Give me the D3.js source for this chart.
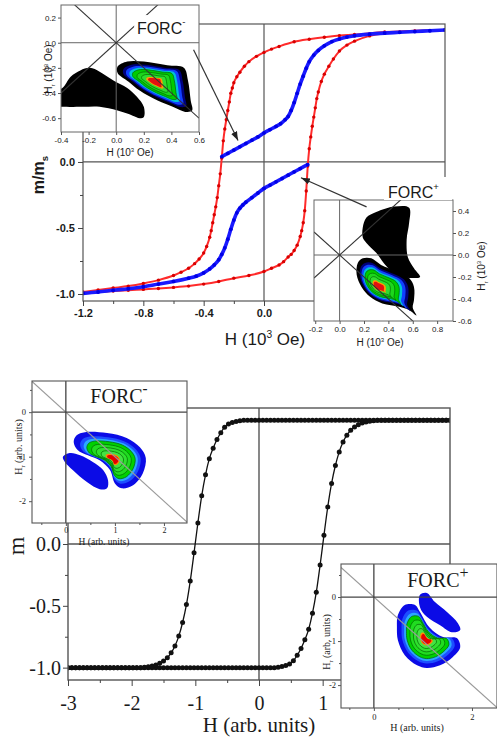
<!DOCTYPE html>
<html><head><meta charset="utf-8">
<script src="https://cdn.jsdelivr.net/npm/d3@7/dist/d3.min.js"></script>
<style>html,body{margin:0;padding:0;background:#fff}svg{display:block}</style>
</head><body>
<svg id="chart" width="497" height="740" xmlns="http://www.w3.org/2000/svg"></svg>
<script>
// ================= DATA =================
// --- Top panel: measured hysteresis (H in 10^3 Oe, m/ms) ---
const topRedUpH = [1.2,1.0,0.8,0.6,0.5,0.4,0.3,0.2,0.1,0.05,0,-0.05,-0.1,-0.13,-0.16,-0.18,-0.2,-0.21,-0.22,-0.23,-0.24,-0.25,-0.26,-0.27,-0.28,-0.29,-0.30,-0.31,-0.32,-0.33,-0.34,-0.35,-0.36,-0.38,-0.40,-0.43,-0.46,-0.50,-0.55,-0.6,-0.7,-0.8,-0.9,-1.0,-1.1,-1.2];
const topRedUpM = [1.0,0.993,0.985,0.965,0.957,0.945,0.93,0.91,0.875,0.855,0.83,0.80,0.76,0.725,0.68,0.645,0.60,0.56,0.52,0.455,0.39,0.32,0.25,0.16,0.03,-0.09,-0.18,-0.27,-0.34,-0.40,-0.46,-0.52,-0.57,-0.64,-0.69,-0.735,-0.77,-0.805,-0.835,-0.86,-0.895,-0.92,-0.94,-0.955,-0.97,-0.985];
const topRedLowH = [-1.2,-1.1,-1.0,-0.9,-0.8,-0.7,-0.6,-0.5,-0.4,-0.3,-0.2,-0.1,0.0,0.05,0.1,0.13,0.16,0.18,0.2,0.22,0.24,0.25,0.26,0.27,0.28,0.29,0.30,0.31,0.32,0.33,0.34,0.35,0.36,0.38,0.40,0.43,0.46,0.50,0.55,0.6,0.7,0.8,0.9,1.0,1.1,1.2];
const topRedLowM = [-0.99,-0.985,-0.978,-0.972,-0.965,-0.958,-0.95,-0.94,-0.925,-0.905,-0.88,-0.86,-0.83,-0.805,-0.78,-0.755,-0.72,-0.70,-0.67,-0.63,-0.565,-0.52,-0.46,-0.37,-0.22,-0.03,0.10,0.19,0.27,0.34,0.41,0.48,0.53,0.61,0.665,0.725,0.78,0.84,0.885,0.915,0.955,0.975,0.985,0.99,0.995,1.0];
const topBlueUpH = [-0.28,-0.24,-0.2,-0.16,-0.12,-0.08,-0.04,0,0.04,0.08,0.11,0.14,0.16,0.18,0.2,0.22,0.24,0.26,0.28,0.30,0.33,0.36,0.40,0.45,0.5,0.55,0.6,0.7,0.8,0.9,1.0,1.1,1.2];
const topBlueUpM = [0.04,0.065,0.09,0.115,0.14,0.165,0.19,0.22,0.245,0.27,0.29,0.32,0.345,0.39,0.45,0.52,0.59,0.65,0.71,0.76,0.81,0.845,0.88,0.912,0.932,0.946,0.956,0.968,0.976,0.982,0.988,0.994,1.0];
const topBlueLowH = [0.29,0.24,0.2,0.16,0.12,0.08,0.04,0,-0.04,-0.08,-0.12,-0.14,-0.16,-0.18,-0.2,-0.22,-0.24,-0.26,-0.28,-0.30,-0.33,-0.36,-0.40,-0.45,-0.5,-0.6,-0.7,-0.8,-0.9,-1.0,-1.1,-1.2];
const topBlueLowM = [-0.02,-0.05,-0.075,-0.1,-0.125,-0.15,-0.175,-0.2,-0.235,-0.27,-0.305,-0.325,-0.35,-0.385,-0.44,-0.51,-0.585,-0.65,-0.70,-0.74,-0.78,-0.81,-0.84,-0.865,-0.88,-0.905,-0.925,-0.945,-0.96,-0.972,-0.985,-0.995];
const topXTicks = [-1.2,-0.8,-0.4,0.0];
const topXMinor = [-1.0,-0.6,-0.2];
const topYTicks = [0.0,-0.5,-1.0];
const topYMinor = [-0.25,-0.75];

// --- Top insets (FORC distributions, H and Hr in 10^3 Oe) ---
const tmXTicks = [-0.4,-0.2,0.0,0.2,0.4,0.6];
const tmYTicks = [0.2,0.0,-0.2,-0.4,-0.6];
const tmNegBlob = [[-0.39,-0.36],[-0.33,-0.27],[-0.26,-0.22],[-0.19,-0.2],[-0.12,-0.23],[-0.02,-0.3],[0.08,-0.36],[0.15,-0.43],[0.2,-0.51],[0.2,-0.59],[0.17,-0.6],[0.12,-0.58],[0.01,-0.54],[-0.12,-0.51],[-0.24,-0.51],[-0.38,-0.51],[-0.45,-0.5],[-0.45,-0.38]];
const tmPosBlob = [[0.01,-0.19],[0.08,-0.15],[0.2,-0.15],[0.37,-0.18],[0.49,-0.2],[0.52,-0.3],[0.54,-0.46],[0.55,-0.54],[0.5,-0.55],[0.41,-0.51],[0.3,-0.46],[0.17,-0.38],[0.09,-0.31],[0.01,-0.24]];
const tmPeak = [0.28,-0.31];
const tpXTicks = [-0.2,0.0,0.2,0.4,0.6,0.8];
const tpYTicks = [0.4,0.2,0.0,-0.2,-0.4,-0.6];
const tpNegBlob = [[0.19,0.25],[0.22,0.34],[0.30,0.39],[0.45,0.44],[0.57,0.43],[0.57,0.29],[0.55,0.14],[0.56,-0.02],[0.61,-0.12],[0.66,-0.2],[0.6,-0.21],[0.49,-0.19],[0.39,-0.11],[0.30,0.02],[0.22,0.11],[0.19,0.16]];
const tpPosBlob = [[0.15,-0.07],[0.19,-0.03],[0.26,-0.03],[0.34,-0.09],[0.47,-0.15],[0.57,-0.21],[0.61,-0.29],[0.61,-0.41],[0.6,-0.48],[0.63,-0.55],[0.57,-0.5],[0.49,-0.47],[0.35,-0.44],[0.25,-0.38],[0.18,-0.29],[0.14,-0.18]];
const tpPeak = [0.31,-0.29];
const topLevels = [
  {s:1.00, fill:'#000000'},
  {s:0.84, fill:'#00007c'},
  {s:0.76, fill:'#1040ff'},
  {s:0.67, fill:'#00c4d4'},
  {s:0.59, fill:'#00cc00', stroke:'#006a00'},
  {s:0.47, fill:'#1cd61c', stroke:'#006a00'},
  {s:0.35, fill:'#30dc30', stroke:'#006a00'},
  {s:0.23, fill:'#ff9a00'},
  {s:0.18, fill:'#e41010'}
];

// --- Bottom panel: model hysteresis (arb. units) ---
const botH = [-3.00,-2.94,-2.88,-2.82,-2.76,-2.70,-2.64,-2.58,-2.52,-2.46,
  -2.40,-2.34,-2.28,-2.22,-2.16,-2.10,-2.04,-1.98,-1.92,-1.86,
  -1.80,-1.74,-1.68,-1.62,-1.56,-1.50,-1.44,-1.38,-1.32,-1.26,
  -1.20,-1.14,-1.08,-1.02,-0.96,-0.90,-0.84,-0.78,-0.72,-0.66,
  -0.60,-0.54,-0.48,-0.42,-0.36,-0.30,-0.24,-0.18,-0.12,-0.06,
  0.00,0.06,0.12,0.18,0.24,0.30,0.36,0.42,0.48,0.54,
  0.60,0.66,0.72,0.78,0.84,0.90,0.96,1.02,1.08,1.14,
  1.20,1.26,1.32,1.38,1.44,1.50,1.56,1.62,1.68,1.74,
  1.80,1.86,1.92,1.98,2.04,2.10,2.16,2.22,2.28,2.34,
  2.40,2.46,2.52,2.58,2.64,2.70,2.76,2.82,2.88,2.94,3.00];
const botAscM = [-1,-1,-1,-1,-1,-1,-1,-1,-1,-1,
  -1,-1,-1,-1,-1,-1,-1,-1,-1,-1,
  -1,-1,-1,-1,-1,-1,-1,-1,-1,-1,
  -1,-1,-1,-1,-1,-1,-1,-1,-1,-1,
  -1,-1,-1,-1,-1,-1,-1,-1,-1,-1,
  -1,-1,-1,-1,-1,-0.996,-0.99,-0.982,-0.97,-0.945,
  -0.90,-0.845,-0.775,-0.69,-0.56,-0.39,-0.17,0.07,0.30,0.49,
  0.635,0.745,0.825,0.88,0.92,0.946,0.965,0.978,0.987,0.993,
  0.997,1,1,1,1,1,1,1,1,1,
  1,1,1,1,1,1,1,1,1,1,1];
const botDescM = [-1,-1,-1,-1,-1,-1,-1,-1,-1,-1,
  -1,-1,-1,-1,-1,-1,-1,-1,-1,-1,
  -0.997,-0.993,-0.987,-0.978,-0.965,-0.946,-0.92,-0.88,-0.825,-0.745,
  -0.635,-0.49,-0.30,-0.07,0.17,0.39,0.56,0.69,0.775,0.845,
  0.90,0.945,0.97,0.982,0.99,0.996,1,1,1,1,
  1,1,1,1,1,1,1,1,1,1,
  1,1,1,1,1,1,1,1,1,1,
  1,1,1,1,1,1,1,1,1,1,
  1,1,1,1,1,1,1,1,1,1,
  1,1,1,1,1,1,1,1,1,1,1];
const botXTicks = [-3,-2,-1,0,1];
const botXMinor = [-2.5,-1.5,-0.5,0.5];
const botYTicks = [0.0,-0.5,-1.0];
const botYMinor = [-0.25,-0.75];

// --- Bottom insets (model FORC, arb. units) ---
const bInXTicks = [0,1,2];
const bInXMinor = [-0.5,0.5,1.5];
const bInYTicks = [0,-1,-2];
const bInYMinor = [0.5,-0.5,-1.5];
const bpXTickLabels = [0,2];
const bmSideBlob = [[-0.06,-1.01],[0.08,-0.92],[0.29,-0.97],[0.55,-1.12],[0.76,-1.3],[0.86,-1.53],[0.84,-1.71],[0.69,-1.73],[0.43,-1.57],[0.14,-1.3],[-0.02,-1.12]];
const bmMainBlob = [[0.22,-0.52],[0.39,-0.45],[0.84,-0.47],[1.24,-0.58],[1.51,-0.79],[1.63,-1.03],[1.57,-1.37],[1.37,-1.64],[1.14,-1.71],[1.0,-1.6],[0.9,-1.3],[0.69,-1.08],[0.45,-0.97],[0.24,-0.85],[0.16,-0.67]];
const bmPeak = [0.97,-1.06];
const bpSideBlob = [[0.94,0.05],[1.08,0.09],[1.24,-0.11],[1.49,-0.34],[1.71,-0.59],[1.76,-0.75],[1.59,-0.8],[1.35,-0.64],[1.08,-0.45],[0.94,-0.23]];
const bpMainBlob = [[0.49,-0.41],[0.63,-0.18],[0.84,-0.18],[0.94,-0.34],[1.14,-0.7],[1.41,-0.91],[1.69,-0.93],[1.76,-1.14],[1.61,-1.36],[1.35,-1.55],[1.08,-1.61],[0.88,-1.55],[0.63,-1.32],[0.49,-0.98],[0.47,-0.68]];
const bpPeak = [1.06,-0.97];
const botLevels = [
  {s:1.00, fill:'#0b0be6'},
  {s:0.84, fill:'#1d4eff'},
  {s:0.75, fill:'#2aa8ff'},
  {s:0.67, fill:'#00d000', stroke:'#006400'},
  {s:0.55, fill:'#20dc20', stroke:'#006400'},
  {s:0.43, fill:'#30e030', stroke:'#006400'},
  {s:0.31, fill:'#44e244', stroke:'#006400'},
  {s:0.20, fill:'#ff8a00'},
  {s:0.16, fill:'#e60000'}
];

// Arrows (data coords of the top panel)
const arrowMinus = {from:[-0.467,0.85], to:[-0.172,0.162]};
const arrowPlus  = {from:[0.68,-0.34], to:[0.245,-0.12]};

// ================= DRAWING =================
const svg = d3.select('#chart');
const SANS = "'Liberation Sans', Arial, sans-serif";
const SERIF = "'Liberation Serif', 'Times New Roman', serif";
const defs = svg.append('defs');
let clipN = 0;
function clip(xs, ys){
  const id = 'clip' + (clipN++);
  const [x0,x1] = xs.range(), [y0,y1] = ys.range();
  defs.append('clipPath').attr('id', id).append('rect')
    .attr('x', Math.min(x0,x1)).attr('y', Math.min(y0,y1))
    .attr('width', Math.abs(x1-x0)).attr('height', Math.abs(y1-y0));
  return `url(#${id})`;
}
const zip = (a,b) => a.map((v,i)=>[v,b[i]]);

function richText(g, x, y, parts, o){
  const t = g.append('text').attr('x', x).attr('y', y)
    .attr('font-family', o.family).attr('font-size', o.size)
    .attr('text-anchor', o.anchor || 'start').attr('fill', o.fill || '#1a1a1a');
  if (o.weight) t.attr('font-weight', o.weight);
  if (o.rotate) t.attr('transform', `rotate(${o.rotate},${x},${y})`);
  let shift = 0;
  parts.forEach(p => {
    const s = t.append('tspan').text(p.t);
    let target = 0, fs = o.size;
    if (p.sup) { target = -o.size * (p.rise || 0.42); fs = o.size * (p.scale || 0.6); }
    if (p.sub) { target = o.size * 0.25; fs = o.size * (p.scale || 0.6); }
    s.attr('dy', target - shift).attr('font-size', fs);
    if (p.weight) s.attr('font-weight', p.weight);
    shift = target;
  });
  return t;
}

function frameRect(g, xs, ys, stroke, sw, fill){
  const [x0,x1] = xs.range(), [y0,y1] = ys.range();
  return g.append('rect').attr('x', x0).attr('y', y1).attr('width', x1-x0).attr('height', y0-y1)
    .attr('fill', fill || 'none').attr('stroke', stroke).attr('stroke-width', sw);
}
function zeroLines(g, xs, ys, stroke, sw){
  const [x0,x1] = xs.range(), [y0,y1] = ys.range();
  g.append('line').attr('x1', xs(0)).attr('x2', xs(0)).attr('y1', y0).attr('y2', y1).attr('stroke', stroke).attr('stroke-width', sw);
  g.append('line').attr('x1', x0).attr('x2', x1).attr('y1', ys(0)).attr('y2', ys(0)).attr('stroke', stroke).attr('stroke-width', sw);
}
function axis(g, gen, tx, ty, family, size, weight, color){
  const a = g.append('g').attr('transform', `translate(${tx},${ty})`).call(gen);
  a.select('.domain').remove();
  a.attr('font-family', family).attr('font-size', size);
  a.selectAll('line').attr('stroke', color).attr('stroke-width', 1);
  a.selectAll('text').attr('fill', '#1a1a1a');
  if (weight) a.selectAll('text').attr('font-weight', weight);
  return a;
}
function series(g, xs, ys, pts, color, width, r, mcolor, clipUrl){
  const gg = g.append('g').attr('clip-path', clipUrl);
  const sorted = pts.slice().sort((a,b)=>a[0]-b[0]);
  gg.append('path').attr('d', d3.line().x(d=>xs(d[0])).y(d=>ys(d[1])).curve(d3.curveMonotoneX)(sorted))
    .attr('fill','none').attr('stroke', color).attr('stroke-width', width).attr('stroke-linejoin','round');
  gg.selectAll(null).data(pts).enter().append('circle')
    .attr('cx', d=>xs(d[0])).attr('cy', d=>ys(d[1])).attr('r', r).attr('fill', mcolor);
}
const blobLine = d3.line().curve(d3.curveCatmullRomClosed.alpha(0.5));
function blob(g, xs, ys, poly, peak, levels){
  levels.forEach(l => {
    const pts = poly.map(p => [xs(peak[0] + l.s*(p[0]-peak[0])), ys(peak[1] + l.s*(p[1]-peak[1]))]);
    g.append('path').attr('d', blobLine(pts)).attr('fill', l.fill)
      .attr('stroke', l.stroke || 'none').attr('stroke-width', 0.7);
  });
}
function diag(g, xs, ys, sign, stroke, sw){
  const [a,b] = xs.domain();
  g.append('line').attr('x1', xs(a)).attr('y1', ys(sign*a)).attr('x2', xs(b)).attr('y2', ys(sign*b))
    .attr('stroke', stroke).attr('stroke-width', sw);
}

// ---------- TOP PANEL ----------
const tx = d3.scaleLinear().domain([-1.2,1.2]).range([83,445]);
const ty = d3.scaleLinear().domain([-1.053,1.045]).range([301,24]);
const gTop = svg.append('g');
zeroLines(gTop, tx, ty, '#555', 1.2);
const cTop = clip(tx, ty);
series(gTop, tx, ty, zip(topRedUpH, topRedUpM), '#ff2b2b', 2.0, 1.7, '#d80000', cTop);
series(gTop, tx, ty, zip(topRedLowH, topRedLowM), '#ff2b2b', 2.0, 1.7, '#d80000', cTop);
series(gTop, tx, ty, zip(topBlueUpH, topBlueUpM), '#1a1aff', 3.6, 1.9, '#0000e6', cTop);
series(gTop, tx, ty, zip(topBlueLowH, topBlueLowM), '#1a1aff', 3.6, 1.9, '#0000e6', cTop);
frameRect(gTop, tx, ty, '#555', 1.2);
const f1 = d => d.toFixed(1);
axis(gTop, d3.axisBottom(tx).tickValues(topXTicks).tickSize(5).tickPadding(3).tickFormat(f1), 0, 301, SANS, 11, 'bold', '#444');
axis(gTop, d3.axisBottom(tx).tickValues(topXMinor).tickSize(3).tickFormat(''), 0, 301, SANS, 11, null, '#444');
axis(gTop, d3.axisLeft(ty).tickValues(topYTicks).tickSize(5).tickPadding(3).tickFormat(f1), 83, 0, SANS, 11, 'bold', '#444');
axis(gTop, d3.axisLeft(ty).tickValues(topYMinor).tickSize(3).tickFormat(''), 83, 0, SANS, 11, null, '#444');
richText(gTop, 265, 345, [{t:'H (10'},{t:'3',sup:true},{t:' Oe)'}], {family:SANS, size:17, anchor:'middle'});
richText(gTop, 44, 175, [{t:'m/m'},{t:'s',sub:true}], {family:SANS, size:16, weight:'bold', anchor:'middle', rotate:-90});

// ---- Top inset FORC- ----
const ax1 = d3.scaleLinear().domain([-0.4,0.6]).range([61,199]);
const ay1 = d3.scaleLinear().domain([-0.71,0.3]).range([132,5]);
const gI1 = svg.append('g');
frameRect(gI1, ax1, ay1, 'none', 0, '#fff');
const c1 = clip(ax1, ay1);
const gI1c = gI1.append('g').attr('clip-path', c1);
blob(gI1c, ax1, ay1, tmNegBlob, tmPeak, [{s:1, fill:'#000'}]);
blob(gI1c, ax1, ay1, tmPosBlob, tmPeak, topLevels);
zeroLines(gI1c, ax1, ay1, '#666', 1);
diag(gI1c, ax1, ay1, -1, '#333', 1.1);
diag(gI1c, ax1, ay1, 1, '#333', 1.1);
gI1.append('rect').attr('x', ax1(0.13)).attr('y', ay1(0.22)).attr('width', ax1(0.5)-ax1(0.13)).attr('height', ay1(0.04)-ay1(0.22)).attr('fill','#fff');
richText(gI1, ax1(0.15), ay1(0.07), [{t:'FORC'},{t:'-',sup:true,rise:0.55}], {family:SANS, size:16});
frameRect(gI1, ax1, ay1, '#666', 1);
axis(gI1, d3.axisLeft(ay1).tickValues(tmYTicks).tickSize(3).tickPadding(2).tickFormat(f1), 61, 0, SANS, 8, null, '#555');
axis(gI1, d3.axisBottom(ax1).tickValues(tmXTicks).tickSize(3).tickPadding(2).tickFormat(f1), 0, 132, SANS, 8, null, '#555');
richText(gI1, 130, 156, [{t:'H (10'},{t:'3',sup:true},{t:' Oe)'}], {family:SANS, size:10, anchor:'middle'});
richText(gI1, 52, 69, [{t:'H'},{t:'r',sub:true},{t:' (10'},{t:'3',sup:true},{t:' Oe)'}], {family:SANS, size:10, anchor:'middle', rotate:-90});

// ---- Top inset FORC+ ----
const ax2 = d3.scaleLinear().domain([-0.21,0.93]).range([314,453]);
const ay2 = d3.scaleLinear().domain([-0.6,0.5]).range([321,200]);
const gI2 = svg.append('g');
frameRect(gI2, ax2, ay2, 'none', 0, '#fff');
const c2 = clip(ax2, ay2);
const gI2c = gI2.append('g').attr('clip-path', c2);
blob(gI2c, ax2, ay2, tpNegBlob, tpPeak, [{s:1, fill:'#000'}]);
blob(gI2c, ax2, ay2, tpPosBlob, tpPeak, topLevels);
zeroLines(gI2c, ax2, ay2, '#666', 1);
diag(gI2c, ax2, ay2, -1, '#333', 1.1);
diag(gI2c, ax2, ay2, 1, '#333', 1.1);
frameRect(gI2, ax2, ay2, '#666', 1);
axis(gI2, d3.axisRight(ay2).tickValues(tpYTicks).tickSize(3).tickPadding(2).tickFormat(f1), 453, 0, SANS, 8, null, '#555');
axis(gI2, d3.axisBottom(ax2).tickValues(tpXTicks).tickSize(3).tickPadding(2).tickFormat(f1), 0, 321, SANS, 8, null, '#555');
richText(gI2, 380, 346, [{t:'H (10'},{t:'3',sup:true},{t:' Oe)'}], {family:SANS, size:10, anchor:'middle'});
richText(gI2, 485, 266, [{t:'H'},{t:'r',sub:true},{t:' (10'},{t:'3',sup:true},{t:' Oe)'}], {family:SANS, size:10, anchor:'middle', rotate:-90});
// FORC+ label box
gI2.append('rect').attr('x', 384).attr('y', 177).attr('width', 68).attr('height', 23).attr('fill', '#fff');
richText(gI2, 388, 198, [{t:'FORC'},{t:'+',sup:true,rise:0.5}], {family:SANS, size:16});

// arrows
defs.append('marker').attr('id','ah').attr('viewBox','0 0 10 10').attr('refX',10).attr('refY',5)
  .attr('markerWidth',9).attr('markerHeight',9).attr('markerUnits','userSpaceOnUse').attr('orient','auto')
  .append('path').attr('d','M0,1.5L10,5L0,8.5Z').attr('fill','#222');
[arrowMinus, arrowPlus].forEach(a => {
  svg.append('line').attr('x1', tx(a.from[0])).attr('y1', ty(a.from[1]))
    .attr('x2', tx(a.to[0])).attr('y2', ty(a.to[1]))
    .attr('stroke','#333').attr('stroke-width',1.2).attr('marker-end','url(#ah)');
});

// ---------- BOTTOM PANEL ----------
const bx = d3.scaleLinear().domain([-3,3]).range([68,450]);
const by = d3.scaleLinear().domain([-1.1,1.1]).range([680,408]);
const gBot = svg.append('g');
zeroLines(gBot, bx, by, '#555', 1.4);
const cBot = clip(bx, by);
series(gBot, bx, by, zip(botH, botAscM), '#111', 1.3, 2.5, '#111', cBot);
series(gBot, bx, by, zip(botH, botDescM), '#111', 1.3, 2.5, '#111', cBot);
frameRect(gBot, bx, by, '#555', 1.4);
axis(gBot, d3.axisBottom(bx).tickValues(botXTicks).tickSize(6).tickPadding(10).tickFormat(d => String(d)), 0, 680, SERIF, 20, null, '#444');
axis(gBot, d3.axisBottom(bx).tickValues(botXMinor).tickSize(3).tickFormat(''), 0, 680, SERIF, 20, null, '#444');
axis(gBot, d3.axisLeft(by).tickValues(botYTicks).tickSize(5).tickPadding(2).tickFormat(f1), 68, 0, SERIF, 20, null, '#444');
axis(gBot, d3.axisLeft(by).tickValues(botYMinor).tickSize(3).tickFormat(''), 68, 0, SERIF, 20, null, '#444');
richText(gBot, 259, 732, [{t:'H (arb. units)'}], {family:SERIF, size:21, anchor:'middle'});
richText(gBot, 24, 546, [{t:'m'}], {family:SERIF, size:24, anchor:'middle', rotate:-90});

// ---- Bottom inset FORC- ----
const jx1 = d3.scaleLinear().domain([-0.69,2.47]).range([32,187]);
const jy1 = d3.scaleLinear().domain([-2.49,0.70]).range([523,381]);
const gJ1 = svg.append('g');
frameRect(gJ1, jx1, jy1, 'none', 0, '#fff');
const cj1 = clip(jx1, jy1);
const gJ1c = gJ1.append('g').attr('clip-path', cj1);
blob(gJ1c, jx1, jy1, bmSideBlob, bmPeak, [{s:1, fill:'#0b0be6'}]);
blob(gJ1c, jx1, jy1, bmMainBlob, bmPeak, botLevels);
diag(gJ1c, jx1, jy1, -1, '#9a9a9a', 1.1);
zeroLines(gJ1c, jx1, jy1, '#444', 1.3);
frameRect(gJ1, jx1, jy1, '#555', 1.1);
axis(gJ1, d3.axisLeft(jy1).tickValues(bInYTicks).tickSize(3).tickPadding(3).tickFormat(d => String(d)), 32, 0, SERIF, 8.5, null, '#555');
axis(gJ1, d3.axisLeft(jy1).tickValues(bInYMinor).tickSize(2).tickFormat(''), 32, 0, SERIF, 8.5, null, '#555');
axis(gJ1, d3.axisBottom(jx1).tickValues(bInXTicks).tickSize(3).tickPadding(1).tickFormat(d => String(d)), 0, 523, SERIF, 8, null, '#555');
axis(gJ1, d3.axisBottom(jx1).tickValues(bInXMinor).tickSize(2).tickFormat(''), 0, 523, SERIF, 8, null, '#555');
richText(gJ1, 104, 545, [{t:'H (arb. units)'}], {family:SERIF, size:9.5, anchor:'middle'});
richText(gJ1, 22, 447, [{t:'H'},{t:'r',sub:true},{t:' (arb. units)'}], {family:SERIF, size:10, anchor:'middle', rotate:-90});
richText(gJ1, jx1(0.5), jy1(0.2), [{t:'FORC'},{t:'-',sup:true,rise:0.5,scale:0.75,weight:'bold'}], {family:SERIF, size:20});

// ---- Bottom inset FORC+ ----
const jx2 = d3.scaleLinear().domain([-0.67,2.51]).range([341,497]);
const jy2 = d3.scaleLinear().domain([-2.52,0.75]).range([708,564]);
const gJ2 = svg.append('g');
frameRect(gJ2, jx2, jy2, 'none', 0, '#fff');
const cj2 = clip(jx2, jy2);
const gJ2c = gJ2.append('g').attr('clip-path', cj2);
blob(gJ2c, jx2, jy2, bpSideBlob, bpPeak, [{s:1, fill:'#0b0be6'}]);
blob(gJ2c, jx2, jy2, bpMainBlob, bpPeak, botLevels);
diag(gJ2c, jx2, jy2, -1, '#9a9a9a', 1.1);
zeroLines(gJ2c, jx2, jy2, '#444', 1.3);
frameRect(gJ2, jx2, jy2, '#555', 1.1);
axis(gJ2, d3.axisLeft(jy2).tickValues(bInYTicks).tickSize(3).tickPadding(2).tickFormat(d => String(d)), 341, 0, SERIF, 8.5, null, '#555');
axis(gJ2, d3.axisLeft(jy2).tickValues(bInYMinor).tickSize(2).tickFormat(''), 341, 0, SERIF, 8.5, null, '#555');
axis(gJ2, d3.axisBottom(jx2).tickValues(bpXTickLabels).tickSize(3).tickPadding(3).tickFormat(d => String(d)), 0, 708, SERIF, 8.5, null, '#555');
axis(gJ2, d3.axisBottom(jx2).tickValues(bInXMinor.concat([1])).tickSize(2).tickFormat(''), 0, 708, SERIF, 8.5, null, '#555');
richText(gJ2, 417, 731, [{t:'H (arb. units)'}], {family:SERIF, size:10, anchor:'middle'});
richText(gJ2, 330, 642, [{t:'H'},{t:'r',sub:true},{t:' (arb. units)'}], {family:SERIF, size:10, anchor:'middle', rotate:-90});
richText(gJ2, jx2(0.68), jy2(0.23), [{t:'FORC'},{t:'+',sup:true,rise:0.45,scale:0.8}], {family:SERIF, size:20});
</script></body></html>
